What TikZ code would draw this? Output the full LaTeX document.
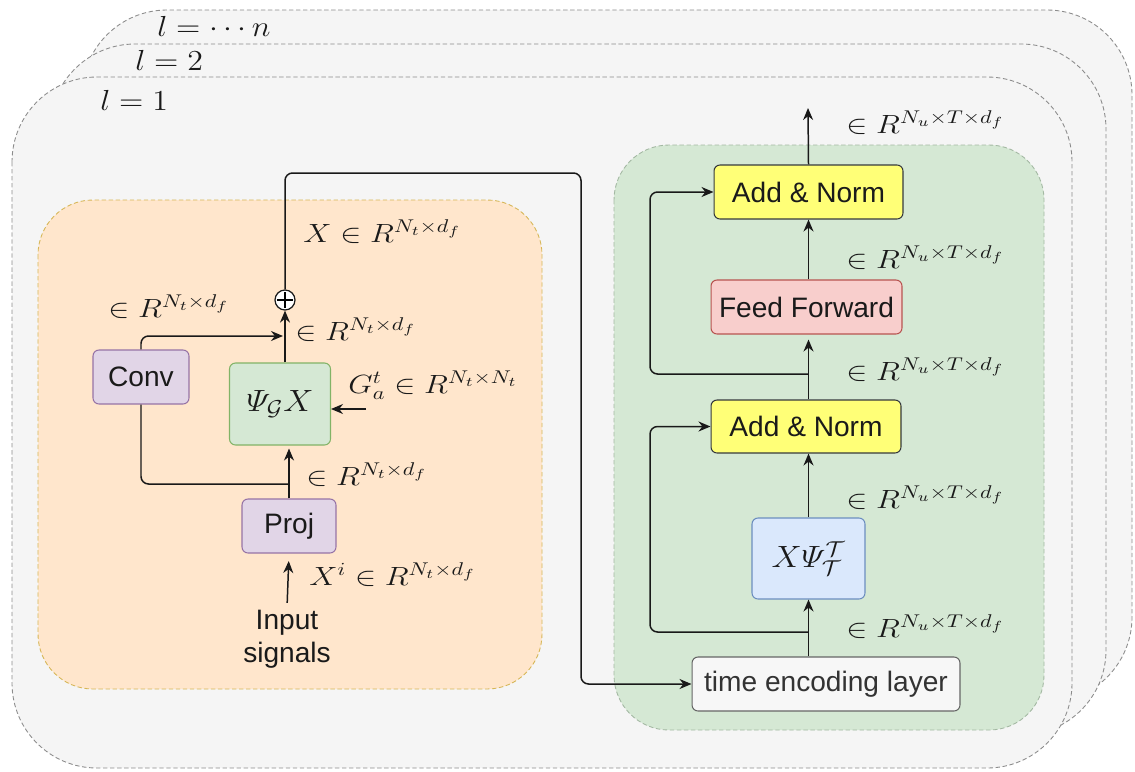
\RequirePackage{fix-cm}
\documentclass[tikz,border=0pt]{standalone}
\usepackage{amsmath}
\usepackage{graphicx}
\usepackage{fontspec}
\setsansfont{Liberation Sans}
\usetikzlibrary{arrows.meta,calc}
\definecolor{panelgray}{HTML}{F5F5F5}
\definecolor{panelline}{HTML}{8C8C8C}
\definecolor{orangefill}{HTML}{FFE6CC}
\definecolor{orangeline}{HTML}{D6B656}
\definecolor{greenfill}{HTML}{D5E8D4}
\definecolor{greenline}{HTML}{A3B8A2}
\definecolor{purplefill}{HTML}{E1D5E7}
\definecolor{purpleline}{HTML}{9673A6}
\definecolor{gboxfill}{HTML}{D5E8D4}
\definecolor{gboxline}{HTML}{82B366}
\definecolor{yellowfill}{HTML}{FFFF77}
\definecolor{yellowline}{HTML}{36393D}
\definecolor{redfill}{HTML}{F8CECC}
\definecolor{redline}{HTML}{B85450}
\definecolor{bluefill}{HTML}{DAE8FC}
\definecolor{blueline}{HTML}{6C8EBF}
\definecolor{whitefill}{HTML}{F7F7F7}
\definecolor{whiteline}{HTML}{666666}
\definecolor{textdark}{HTML}{1A1A1A}
\newcommand{\lb}[1]{\scalebox{1.2}[1]{$#1$}}
\newcommand{\bm}[1]{\scalebox{1.1}[1]{$#1$}}
\newcommand{\lyr}[1]{\scalebox{1.1}[1]{$#1$}}
\begin{document}
\begin{tikzpicture}[x=0.02cm,y=-0.02cm,
  outer/.style={draw=panelline, fill=panelgray, dash pattern=on 2.5pt off 1.5pt, line width=0.5pt, rounded corners=1.7cm},
  opanel/.style={draw=orangeline, fill=orangefill, dash pattern=on 2.5pt off 1.5pt, line width=0.5pt, rounded corners=1.1cm},
  gpanel/.style={draw=greenline, fill=greenfill, dash pattern=on 2.5pt off 1.5pt, line width=0.5pt, rounded corners=1.1cm},
  box/.style={rounded corners=0.12cm, line width=0.6pt, font=\sffamily\fontsize{16}{19}\selectfont, text=textdark, inner sep=0pt},
  purplebox/.style={box, draw=purpleline, fill=purplefill},
  gbox/.style={box, draw=gboxline, fill=gboxfill, font=\fontsize{17.5}{21}\selectfont},
  ybox/.style={box, draw=yellowline, fill=yellowfill},
  rbox/.style={box, draw=redline, fill=redfill},
  bbox/.style={box, draw=blueline, fill=bluefill, font=\fontsize{17.5}{21}\selectfont},
  wbox/.style={box, draw=whiteline, fill=whitefill, text=black!80},
  conn/.style={line width=0.85pt, draw=black!90},
  arr/.style={conn, -{Stealth[length=2.4mm,width=2mm]}},
  lab/.style={font=\fontsize{15}{18}\selectfont, inner sep=0pt, anchor=base west, text=textdark},
  llab/.style={font=\fontsize{16.5}{19}\selectfont, inner sep=0pt, anchor=base west, text=textdark},
  plain/.style={font=\sffamily\fontsize{16}{18.5}\selectfont, align=center, inner sep=1pt, text=textdark},
]
\useasboundingbox (0,0) rectangle (1135,771);
% stacked layer panels
\path[outer] (82,10) rectangle (1132,702);
\path[outer] (50,44) rectangle (1106,735);
\path[outer] (12,77) rectangle (1072,768);
\node[llab] (ln) at (157,36) {\lyr{l=\cdots n}};
\node[llab] (l2) at (135,70) {\lyr{l=2}};
\node[llab] (l1) at (100,110) {\lyr{l=1}};
% inner panels
\path[opanel] (38,200) rectangle (542,689);
\path[gpanel] (614,145) rectangle (1044,730);

% left part nodes
\node[purplebox, minimum width=1.92cm, minimum height=1.08cm] (conv) at (141,377) {Conv};
\node[gbox, minimum width=2.02cm, minimum height=1.64cm] (psig) at (280,404) {\bm{\varPsi_{\mathcal{G}}X}};
\node[purplebox, minimum width=1.88cm, minimum height=1.08cm] (proj) at (289,526) {Proj};
\node[draw=black!90, fill=white, circle, line width=0.7pt, minimum size=0.4cm, inner sep=0pt] (plus) at (285,300) {};
\draw[line width=0.7pt] ($(plus.west)+(3,0)$) -- ($(plus.east)+(-3,0)$);
\draw[line width=0.7pt] ($(plus.north)+(0,3)$) -- ($(plus.south)+(0,-3)$);
\node[plain] (inp) at (287,639) {Input\\signals};

% right part nodes
\node[ybox, minimum width=3.78cm, minimum height=1.08cm] (an2) at (808.5,192) {Add \& Norm};
\node[rbox, minimum width=3.82cm, minimum height=1.08cm] (ff) at (806.5,307) {Feed Forward};
\node[ybox, minimum width=3.8cm, minimum height=1.06cm] (an1) at (806,426.5) {Add \& Norm};
\node[bbox, minimum width=2.26cm, minimum height=1.62cm] (xpsi) at (808.5,558.5) {\bm{X\varPsi_{\mathcal{T}}^{\mathcal{T}}}};
\node[wbox, minimum width=5.36cm, minimum height=1.08cm] (tel) at (826,684) {time encoding layer};

% coordinates
\coordinate (c1) at (581,173);
\coordinate (j1) at (283,336);
\coordinate (j2) at (289,484);
\coordinate (g0) at (366,409);
\coordinate (s1) at (808,632);
\coordinate (s2) at (808,374);
\coordinate (k1) at (650,632);
\coordinate (k2) at (650,374);
\coordinate (out) at (808,108);

% left connectors
\draw[arr, shorten <=3pt, shorten >=0.15cm] (inp.north) -- (proj.south);
\draw[arr, shorten >=0.06cm] (proj.north) -- (proj.north |- psig.south);
\draw[conn, rounded corners=0.15cm] (conv.south) |- (j2);
\draw[arr, rounded corners=0.15cm] (conv.north) |- (j1);
\draw[arr] (plus.south |- psig.north) -- (plus.south);
\draw[arr] (g0) -- (g0 -| psig.east);
\draw[arr, rounded corners=0.15cm] (plus.north) |- (c1) |- (tel.west);

% right connectors
\draw[arr] (xpsi.south |- tel.north) -- (xpsi.south);
\draw[arr] (xpsi.north) -- (xpsi.north |- an1.south);
\draw[arr, shorten >=0.1cm] (xpsi.north |- an1.north) -- (xpsi.north |- ff.south);
\draw[arr] (xpsi.north |- ff.north) -- (xpsi.north |- an2.south);
\draw[arr] (xpsi.north |- an2.north) -- (out);
\draw[arr, rounded corners=0.15cm] (s1) -- (k1) |- (an1.west);
\draw[arr, rounded corners=0.15cm] (s2) -- (k2) |- (an2.west);

% labels left
\node[lab] (lx) at (303,242) {\lb{X\in R^{N_t\times d_f}}};
\node[lab] (lc) at (108,317) {\lb{\in R^{N_t\times d_f}}};
\node[lab] (lp) at (295,340) {\lb{\in R^{N_t\times d_f}}};
\node[lab] (lg) at (348,393) {\lb{G_a^t\in R^{N_t\times N_t}}};
\node[lab] (lj) at (306,485) {\lb{\in R^{N_t\times d_f}}};
\node[lab] (li) at (309,585) {\lb{X^i\in R^{N_t\times d_f}}};
% labels right
\node[lab] (r1) at (846,133) {\lb{\in R^{N_u\times T\times d_f}}};
\node[lab] (r2) at (846,268) {\lb{\in R^{N_u\times T\times d_f}}};
\node[lab] (r3) at (846,380) {\lb{\in R^{N_u\times T\times d_f}}};
\node[lab] (r4) at (846,508) {\lb{\in R^{N_u\times T\times d_f}}};
\node[lab] (r5) at (846,637) {\lb{\in R^{N_u\times T\times d_f}}};
\end{tikzpicture}
\end{document}
